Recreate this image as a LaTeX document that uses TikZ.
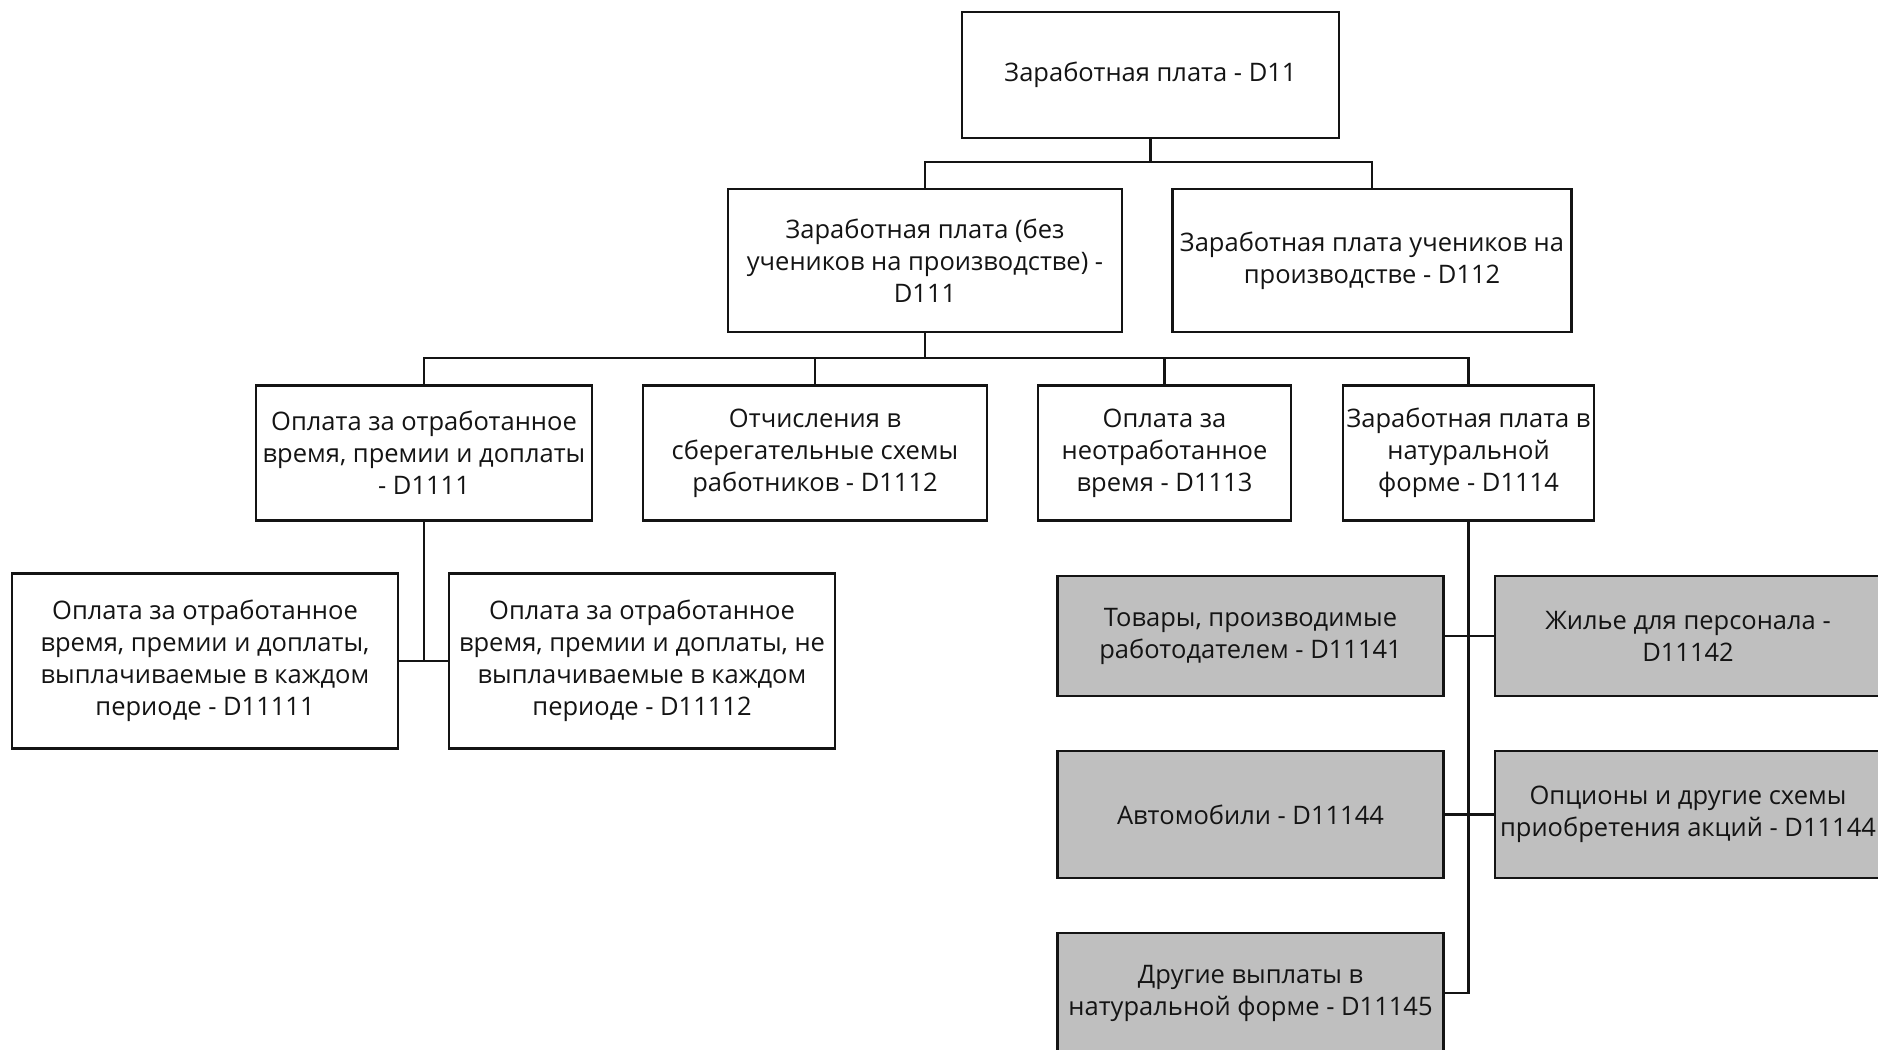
\documentclass[tikz,border=0pt]{standalone}
\usepackage{fontspec}
\setmainfont{Open Sans}
\definecolor{boxgray}{RGB}{191,191,191}
\definecolor{inkgray}{RGB}{20,20,20}

\begin{document}
\begin{tikzpicture}[x=1pt, y=-1pt,
  box/.style={rectangle, draw=inkgray, line width=2.2pt, fill=white, align=center, inner xsep=2pt, text=inkgray, font=\fontsize{25.5}{32}\selectfont},
  goodsbox/.style={box, fill=boxgray},
  link/.style={draw=inkgray, line width=2.6pt}]
  \useasboundingbox (0,0) rectangle (1878,1049);
  % Nodes
  \node[box, minimum width=377pt, minimum height=126pt] (d11) at (1150.5,75) {Заработная плата - D11};
  \node[box, minimum width=394pt, minimum height=143pt] (d111) at (925,260.5) {Заработная плата (без\\учеников на производстве) -\\D111};
  \node[box, minimum width=399pt, minimum height=143pt] (d112) at (1372,260.5) {Заработная плата учеников на\\производстве - D112};
  \node[box, minimum width=336pt, minimum height=135pt] (d1111) at (424,453) {Оплата за отработанное\\время, премии и доплаты\\- D1111};
  \node[box, minimum width=344pt, minimum height=135pt] (d1112) at (815,453) {Отчисления в\\сберегательные схемы\\работников - D1112};
  \node[box, minimum width=253pt, minimum height=135pt] (d1113) at (1164.5,453) {Оплата за\\неотработанное\\время - D1113};
  \node[box, minimum width=251pt, minimum height=135pt] (d1114) at (1468.5,453) {Заработная плата в\\натуральной\\форме - D1114};
  \node[box, minimum width=386pt, minimum height=175pt] (d11111) at (205,661) {Оплата за отработанное\\время, премии и доплаты,\\выплачиваемые в каждом\\периоде - D11111};
  \node[box, minimum width=386pt, minimum height=175pt] (d11112) at (642,661) {Оплата за отработанное\\время, премии и доплаты, не\\выплачиваемые в каждом\\периоде - D11112};
  \node[goodsbox, minimum width=386pt, minimum height=120pt] (d11141) at (1250.5,636) {Товары, производимые\\работодателем - D11141};
  \node[goodsbox, minimum width=386pt, minimum height=120pt] (d11142) at (1688,636) {Жилье для персонала -\\D11142};
  \node[goodsbox, minimum width=386pt, minimum height=127pt] (d11144) at (1250.5,814.5) {Автомобили - D11144};
  \node[goodsbox, minimum width=386pt, minimum height=127pt] (d11143) at (1688,814.5) {Опционы и другие схемы\\приобретения акций - D11144};
  \node[goodsbox, minimum width=386pt, minimum height=120pt] (d11145) at (1250.5,993) {Другие выплаты в\\натуральной форме - D11145};
  \coordinate (j1) at (d11.south |- 0,162);
  \coordinate (j2) at (d111.south |- 0,358);
  \coordinate (j3) at (d1111.south |- d11111.east);
  % Edges
  \draw[link] (d11.south) -- (j1);
  \draw[link] (d111.north) |- (j1) -| (d112.north);
  \draw[link] (d111.south) -- (j2);
  \draw[link] (d1111.north) |- (j2) -| (d1114.north);
  \draw[link] (d1112.north) -- (d1112.north |- j2);
  \draw[link] (d1113.north) -- (d1113.north |- j2);
  \draw[link] (d1111.south) -- (j3);
  \draw[link] (d11111.east) -- (d11112.west);
  \draw[link] (d1114.south) |- (d11145.east);
  \draw[link] (d11141.east) -- (d11142.west);
  \draw[link] (d11144.east) -- (d11143.west);
\end{tikzpicture}
\end{document}
